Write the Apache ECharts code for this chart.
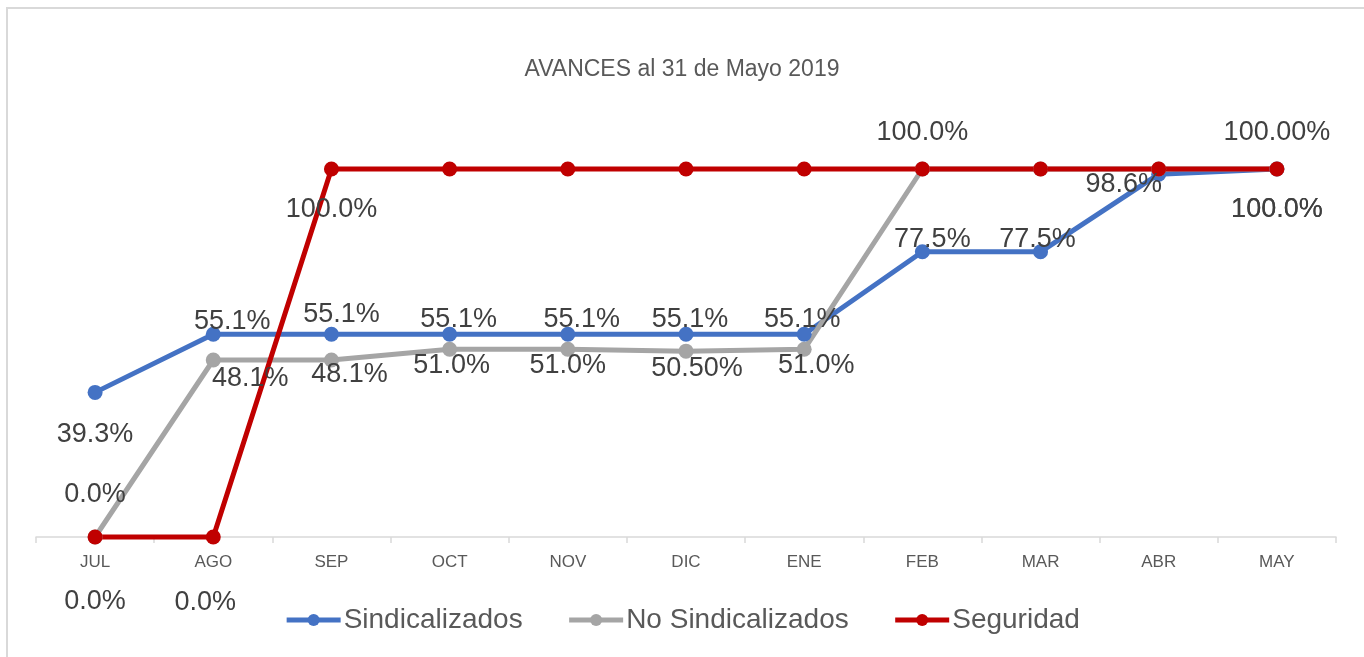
<!DOCTYPE html>
<html>
<head>
<meta charset="utf-8">
<script src="https://cdn.jsdelivr.net/npm/echarts@6/dist/echarts.min.js"></script>
<style>
  html, body { margin: 0; padding: 0; background: #fff; }
  #main { width: 1364px; height: 657px; }
</style>
</head>
<body>
<div id="main"></div>
<script>
// meses
var months = ['JUL', 'AGO', 'SEP', 'OCT', 'NOV', 'DIC', 'ENE', 'FEB', 'MAR', 'ABR', 'MAY']

// valores (fraccion de avance)
var sindicalizados = [0.393, 0.551, 0.551, 0.551, 0.551, 0.551, 0.551, 0.775, 0.775, 0.986, 1.0]
var noSindicalizados = [0.0, 0.481, 0.481, 0.510, 0.510, 0.505, 0.510, 1.0, 1.0, 1.0, 1.0]
var seguridad = [0.0, 0.0, 1.0, 1.0, 1.0, 1.0, 1.0, 1.0, 1.0, 1.0, 1.0]

// etiquetas tal como aparecen (null = sin etiqueta)
var sindLabels = ['39.3%', '55.1%', '55.1%', '55.1%', '55.1%', '55.1%', '55.1%', '77.5%', '77.5%', '98.6%', '100.0%']
var noSindLabels = ['0.0%', '48.1%', '48.1%', '51.0%', '51.0%', '50.50%', '51.0%', '100.0%', null, null, '100.0%']
var segLabels = ['0.0%', '0.0%', '100.0%', null, null, null, null, null, null, null, '100.00%']

// desplazamientos de las etiquetas respecto al punto
var sindOffsets = [[0,42],[19,-13],[10,-20],[9,-15],[14,-15],[4,-15],[-2,-15],[10,-12],[-3,-12],[-35,10],[0,41]]
var noSindOffsets = [[0,-42],[37,19],[18,15],[2,16],[0,16],[11,17],[12,16],[0,-36],[0,0],[0,0],[0,41]]
var segOffsets = [[0,65],[-8,66],[0,41],[0,0],[0,0],[0,0],[0,0],[0,0],[0,0],[0,0],[0,-36]]

var FONT = "'Liberation Sans', Arial, sans-serif"

function buildData(values, labels, offsets) {
  return values.map(function (v, i) {
    if (!labels[i]) return { value: v, label: { show: false } }
    return {
      value: v,
      label: { show: true, position: 'inside', formatter: labels[i], offset: offsets[i] }
    }
  })
}

function makeSeries(name, color, values, labels, offsets) {
  return {
    name: name,
    type: 'line',
    data: buildData(values, labels, offsets),
    symbol: 'circle',
    symbolSize: 15,
    lineStyle: { width: 5, color: color },
    itemStyle: { color: color },
    label: { fontSize: 27, color: '#404040', fontFamily: FONT },
    emphasis: { disabled: true },
    clip: false
  }
}

var myChart = echarts.init(document.getElementById('main'))

var option = {
  animation: false,
  backgroundColor: '#fff',
  title: {
    text: 'AVANCES al 31 de Mayo 2019',
    left: 'center',
    top: 53,
    textStyle: { fontSize: 23, fontWeight: 'normal', color: '#595959', fontFamily: FONT }
  },
  graphic: [{
    type: 'rect',
    shape: { x: 7, y: 8, width: 1400, height: 700 },
    style: { fill: 'none', stroke: '#d9d9d9', lineWidth: 2 },
    silent: true,
    z: -1
  }],
  legend: {
    bottom: 18,
    left: 'center',
    itemWidth: 54,
    itemHeight: 15,
    itemGap: 44,
    lineStyle: { width: 5 },
    textStyle: { fontSize: 28, color: '#595959', fontFamily: FONT, padding: [0, 0, 0, -2] },
    data: ['Sindicalizados', 'No Sindicalizados', 'Seguridad']
  },
  grid: { left: 36, right: 28, top: 169, bottom: 120 },
  xAxis: {
    type: 'category',
    data: months,
    boundaryGap: true,
    axisLine: { lineStyle: { color: '#d9d9d9', width: 1.5 } },
    axisTick: { show: true, length: 6, lineStyle: { color: '#d9d9d9', width: 1.5 } },
    axisLabel: { fontSize: 17, color: '#595959', margin: 17, fontFamily: FONT }
  },
  yAxis: {
    type: 'value',
    min: 0,
    max: 1,
    show: false,
    splitLine: { show: false }
  },
  series: [
    makeSeries('Sindicalizados', '#4472C4', sindicalizados, sindLabels, sindOffsets),
    makeSeries('No Sindicalizados', '#A5A5A5', noSindicalizados, noSindLabels, noSindOffsets),
    makeSeries('Seguridad', '#C00000', seguridad, segLabels, segOffsets)
  ]
}

myChart.setOption(option)
window.onresize = () => { myChart.resize() }
</script>
</body>
</html>
